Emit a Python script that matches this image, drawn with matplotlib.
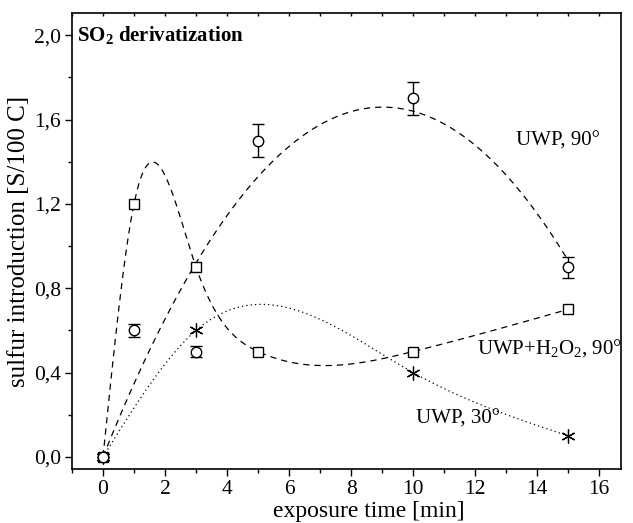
import numpy as np
import matplotlib.pyplot as plt
from matplotlib.ticker import MultipleLocator, FuncFormatter

plt.rcParams['font.family'] = ['Liberation Serif', 'DejaVu Serif']
plt.rcParams['mathtext.fontset'] = 'custom'
plt.rcParams['mathtext.rm'] = 'Liberation Serif'
plt.rcParams['mathtext.bf'] = 'Liberation Serif:bold'

# data
t_uwp90 = [0, 1, 3, 5, 10, 15]
s_uwp90 = [0.0, 0.6, 0.5, 1.5, 1.7, 0.9]
err_uwp90 = [0.0, 0.03, 0.025, 0.08, 0.08, 0.05]

t_h2o2 = [0, 1, 3, 5, 10, 15]
s_h2o2 = [0.0, 1.2, 0.9, 0.5, 0.5, 0.7]

t_uwp30 = [0, 3, 10, 15]
s_uwp30 = [0.0, 0.6, 0.4, 0.1]


def natural_spline(x, y, xs):
    # plain natural cubic spline through the points
    x = np.asarray(x, float)
    y = np.asarray(y, float)
    n = len(x)
    h = np.diff(x)
    A = np.zeros((n, n))
    b = np.zeros(n)
    A[0, 0] = A[-1, -1] = 1
    for i in range(1, n - 1):
        A[i, i - 1] = h[i - 1]
        A[i, i] = 2 * (h[i - 1] + h[i])
        A[i, i + 1] = h[i]
        b[i] = 6 * ((y[i + 1] - y[i]) / h[i] - (y[i] - y[i - 1]) / h[i - 1])
    m = np.linalg.solve(A, b)
    idx = np.clip(np.searchsorted(x, xs) - 1, 0, n - 2)
    x0, x1 = x[idx], x[idx + 1]
    hh = x1 - x0
    a = (x1 - xs) / hh
    c = (xs - x0) / hh
    return (a * y[idx] + c * y[idx + 1]
            + ((a ** 3 - a) * m[idx] + (c ** 3 - c) * m[idx + 1]) * hh ** 2 / 6)


def quad_through_origin(x, y, xs):
    # least squares y = a*x + b*x^2
    x = np.asarray(x, float)
    M = np.column_stack([x, x ** 2])
    k, *_ = np.linalg.lstsq(M, np.asarray(y, float), rcond=None)
    return k[0] * xs + k[1] * xs ** 2


fig = plt.figure(figsize=(6.33, 5.23), dpi=100)
ax = fig.add_axes([0.1137, 0.1033, 0.8673, 0.8718])

xs = np.linspace(0, 15, 400)

# UWP 90 deg: smooth fit through the circles
ax.plot(xs, quad_through_origin(t_uwp90, s_uwp90, xs), color='black', lw=0.9, ls=(0, (5, 4)))
ax.errorbar(t_uwp90, s_uwp90, yerr=err_uwp90, fmt='o', mfc='white', mec='black',
            ms=7.5, mew=1.0, ecolor='black', elinewidth=1.0, capsize=4, zorder=4)

# UWP + H2O2 90 deg
ax.plot(xs, natural_spline(t_h2o2, s_h2o2, xs), color='black', lw=0.9, ls=(0, (5, 4)))
ax.plot(t_h2o2, s_h2o2, 's', mfc='white', mec='black', ms=7, mew=1.0, zorder=4)

# UWP 30 deg
ax.plot(xs, natural_spline(t_uwp30, s_uwp30, xs), color='black', lw=0.9, ls=(0, (1, 2.5)))
ax.plot(t_uwp30, s_uwp30, marker=(6, 2, 0), ls='none', color='black', ms=10, mew=0.9, zorder=4)

ax.set_xlim(-1, 16.7)
ax.set_ylim(-0.057, 2.105)
ax.xaxis.set_major_locator(MultipleLocator(2))
ax.xaxis.set_minor_locator(MultipleLocator(1))
ax.yaxis.set_major_locator(MultipleLocator(0.4))
ax.yaxis.set_minor_locator(MultipleLocator(0.2))
ax.yaxis.set_major_formatter(FuncFormatter(lambda v, p: f'{v:.1f}'.replace('.', ',')))

ax.tick_params(axis='both', which='major', direction='out', length=5, width=1, labelsize=15.5, pad=3)
ax.tick_params(axis='both', which='minor', direction='out', length=3, width=1)
ax.tick_params(axis='x', which='both', top=True)
# top ticks are tiny and point inward
for t in ax.xaxis.get_major_ticks() + ax.xaxis.get_minor_ticks():
    t.tick2line.set_markersize(2.5)
    t.tick2line.set_marker(3)
for sp in ax.spines.values():
    sp.set_linewidth(1.2)

ax.set_xlabel('exposure time [min]', fontsize=17)
ax.set_ylabel('sulfur introduction [S/100 C]', fontsize=18)
ax.xaxis.set_label_coords(0.54, -0.07)
ax.yaxis.set_label_coords(-0.077, 0.5)

ax.text(-0.85, 2.0, r'$\mathbf{SO_2}$ derivatization', fontsize=15, fontweight='bold', va='center')
ax.text(13.3, 1.5, 'UWP, 90°', fontsize=15, va='center')
ax.text(12.05, 0.51, r'UWP+H$_2$O$_2$, 90°', fontsize=15, va='center')
ax.text(10.1, 0.18, 'UWP, 30°', fontsize=15, va='center')

fig.savefig('out.png', dpi=100)
